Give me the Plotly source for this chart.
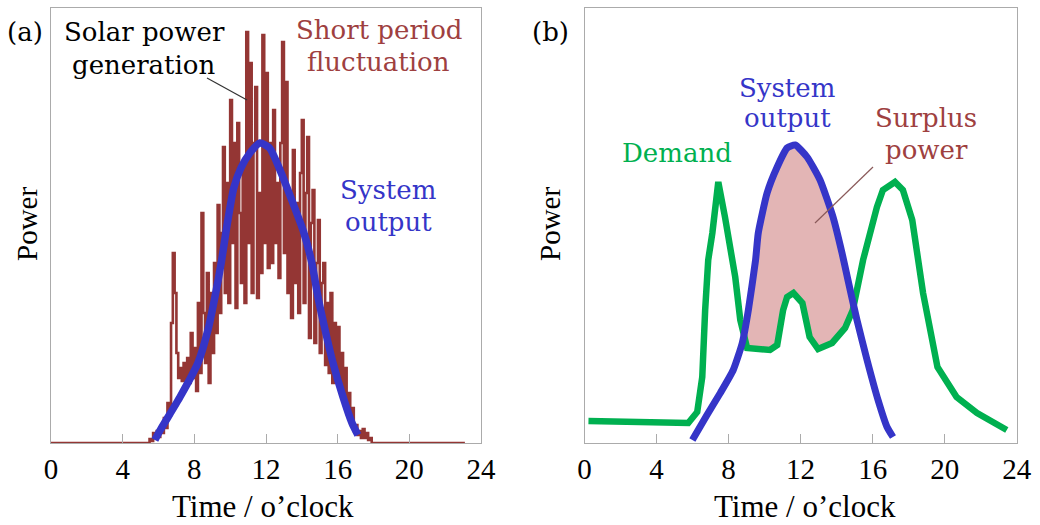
import numpy as np
import plotly.graph_objects as go

# ---------------- data ----------------
# (a) solar power generation, sampled every 0.1 h between 5.4 h and 18.0 h
solar_t0, solar_dt = 5.4, 0.1
solar_vals = [0, 4, 2, 10, 5, 12, 6, 15, 10, 25, 15, 40, 28, 120, 190, 150, 90, 65, 75, 62,
              80, 58, 85, 60, 110, 65, 95, 52, 140, 70, 230, 130, 80, 170, 60, 150, 90, 180, 110, 238,
              130, 210, 296, 150, 260, 140, 343, 200, 300, 135, 320, 230, 160, 280, 140, 411, 200, 380, 150, 300,
              356, 145, 250, 170, 408, 200, 370, 175, 300, 180, 333, 200, 260, 165, 300, 401, 190, 361, 150, 250,
              125, 293, 160, 240, 130, 270, 323, 140, 250, 306, 105, 220, 253, 100, 180, 223, 90, 160, 180, 78,
              140, 70, 150, 60, 120, 65, 116, 55, 90, 50, 75, 35, 50, 25, 35, 12, 18, 8, 12, 5,
              14, 5, 10, 3, 5, 0, 0]
solar_end = 23.1

# (a) system output
sysA_t = [5.8, 6.1, 7.2, 8.2, 8.76, 9.15, 9.5, 9.8, 10.2, 10.6, 11.1, 11.66, 12.2, 12.78, 13.5, 14.1, 14.56, 14.9, 15.3, 15.74, 16.3, 16.8, 17.13]
sysA_v = [3, 13, 46, 80, 113, 146, 180, 215, 255, 275, 290, 300, 295, 273, 240, 211, 180, 146, 113, 80, 46, 20, 8]

# (b) demand
dem_t = [0.22, 5.76, 6.26, 6.54, 6.7, 6.87, 7.1, 7.43, 7.8, 8.2, 8.37, 8.65, 9.03, 10.3, 10.7, 11.03, 11.25, 11.6, 12.1, 12.5, 12.97, 13.75, 14.47, 14.9, 15.47, 16.24, 16.57, 17.24, 17.68, 18.2, 18.5, 18.8, 19.6, 20.66, 21.8, 23.45]
dem_v = [22, 20, 31, 66, 133, 183, 210, 261, 226, 183, 166, 123, 95, 93, 98, 133, 146, 150, 140, 106, 94, 100, 115, 133, 183, 236, 253, 261, 253, 223, 183, 150, 76, 46, 30, 13]

# (b) system output
sysB_t = [5.99, 6.8, 7.54, 8.26, 8.76, 9.1, 9.5, 9.65, 10.14, 10.7, 11.25, 11.7, 12.36, 13.08, 13.8, 14.3, 14.63, 15.13, 15.69, 16.3, 16.8, 17.13]
sysB_v = [3, 28, 50, 73, 100, 133, 183, 210, 250, 276, 295, 298, 286, 263, 226, 190, 163, 123, 83, 43, 16, 6]

x_ticks = [0, 4, 8, 12, 16, 20, 24]

# ---------------- styles ----------------
FONT = "Liberation Serif"
TFONT = "DejaVu Serif"
BROWN = "#943634"
BROWN_TXT = "#9e4040"
BLUE = "#3535c8"
GREEN = "#00b050"
PINK = "#e3b5b5"
FRAME = "#ababab"

solar_t = [0.0] + [round(solar_t0 + i * solar_dt, 2) for i in range(len(solar_vals))] + [solar_end]
solar_y = [0] + solar_vals + [0]

fig = go.Figure()

# (a)
fig.add_trace(go.Scatter(x=solar_t, y=solar_y, mode="lines", line=dict(color=BROWN, width=2.6, shape="hv"),
                         xaxis="x", yaxis="y", hoverinfo="skip", showlegend=False))
fig.add_trace(go.Scatter(x=sysA_t, y=sysA_v, mode="lines",
                         line=dict(color=BLUE, width=7.5, shape="spline", smoothing=0.6),
                         xaxis="x", yaxis="y", hoverinfo="skip", showlegend=False))

# (b) surplus fill between demand and system output
grid = np.linspace(8.5, 15.5, 400)
g_dem = np.interp(grid, dem_t, dem_v)
g_sys = np.interp(grid, sysB_t, sysB_v)
fig.add_trace(go.Scatter(x=grid, y=g_dem, mode="lines", line=dict(width=0, color=PINK),
                         xaxis="x2", yaxis="y2", hoverinfo="skip", showlegend=False))
fig.add_trace(go.Scatter(x=grid, y=np.maximum(g_dem, g_sys), mode="lines", line=dict(width=0, color=PINK),
                         fill="tonexty", fillcolor=PINK,
                         xaxis="x2", yaxis="y2", hoverinfo="skip", showlegend=False))
fig.add_trace(go.Scatter(x=dem_t, y=dem_v, mode="lines", line=dict(color=GREEN, width=6.5),
                         xaxis="x2", yaxis="y2", hoverinfo="skip", showlegend=False))
fig.add_trace(go.Scatter(x=sysB_t, y=sysB_v, mode="lines",
                         line=dict(color=BLUE, width=7, shape="spline", smoothing=0.5),
                         xaxis="x2", yaxis="y2", hoverinfo="skip", showlegend=False))

W, H = 1040, 525
def px(x):
    return x / W
def py(y):
    return 1 - y / H

xaxis_common = dict(range=[0, 24], tickvals=x_ticks, ticks="inside", ticklen=9, tickcolor=FRAME, tickwidth=1,
                    showline=True, linecolor=FRAME, linewidth=1, mirror=True, showgrid=False, zeroline=False,
                    automargin=False,
                    tickfont=dict(family=FONT, size=29, color="black"))
yaxis_common = dict(range=[0, 435], showticklabels=False, ticks="", showline=True, linecolor=FRAME, linewidth=1,
                    mirror=True, showgrid=False, zeroline=False, automargin=False)

fig.update_layout(
    template="none",
    width=W, height=H, margin=dict(l=0, r=0, t=0, b=0, pad=0),
    paper_bgcolor="white", plot_bgcolor="white",
    xaxis=dict(domain=[px(51), px(481)], anchor="y", **xaxis_common),
    yaxis=dict(domain=[py(443), py(8)], anchor="x", **yaxis_common),
    xaxis2=dict(domain=[px(584.5), px(1016.7)], anchor="y2", **xaxis_common),
    yaxis2=dict(domain=[py(443), py(8)], anchor="x2", **yaxis_common),
)

def txt(x, y, s, color, size=26, family=TFONT, angle=0):
    fig.add_annotation(x=px(x), y=py(y), xref="paper", yref="paper", text=s, showarrow=False,
                       font=dict(family=family, size=size, color=color), xanchor="center", yanchor="middle",
                       textangle=angle)

# axis titles
txt(27, 224, "Power", "black", size=29, family=FONT, angle=-90)
txt(550, 224, "Power", "black", size=29, family=FONT, angle=-90)
txt(263, 506, "Time / o’clock", "black", size=31, family=FONT)
txt(805, 506, "Time / o’clock", "black", size=31, family=FONT)

txt(25, 32, "(a)", "black")
txt(144, 32, "Solar power", "black")
txt(144, 65, "generation", "black")
txt(379, 30, "Short period", BROWN_TXT)
txt(378, 62, "fluctuation", BROWN_TXT)
txt(388, 190, "System", BLUE)
txt(388, 222, "output", BLUE)

txt(550, 32, "(b)", "black")
txt(787, 88, "System", BLUE)
txt(787, 118, "output", BLUE)
txt(677, 153, "Demand", GREEN)
txt(926, 118, "Surplus", BROWN_TXT)
txt(926, 150, "power", BROWN_TXT)

# leader lines
fig.add_shape(type="line", xref="paper", yref="paper", x0=px(207), y0=py(78), x1=px(247), y1=py(100),
              line=dict(color="#333333", width=1.2))
fig.add_shape(type="line", xref="paper", yref="paper", x0=px(873), y0=py(167), x1=px(815), y1=py(223),
              line=dict(color="#8a5a5a", width=1.2))

fig.write_html("out.html")
